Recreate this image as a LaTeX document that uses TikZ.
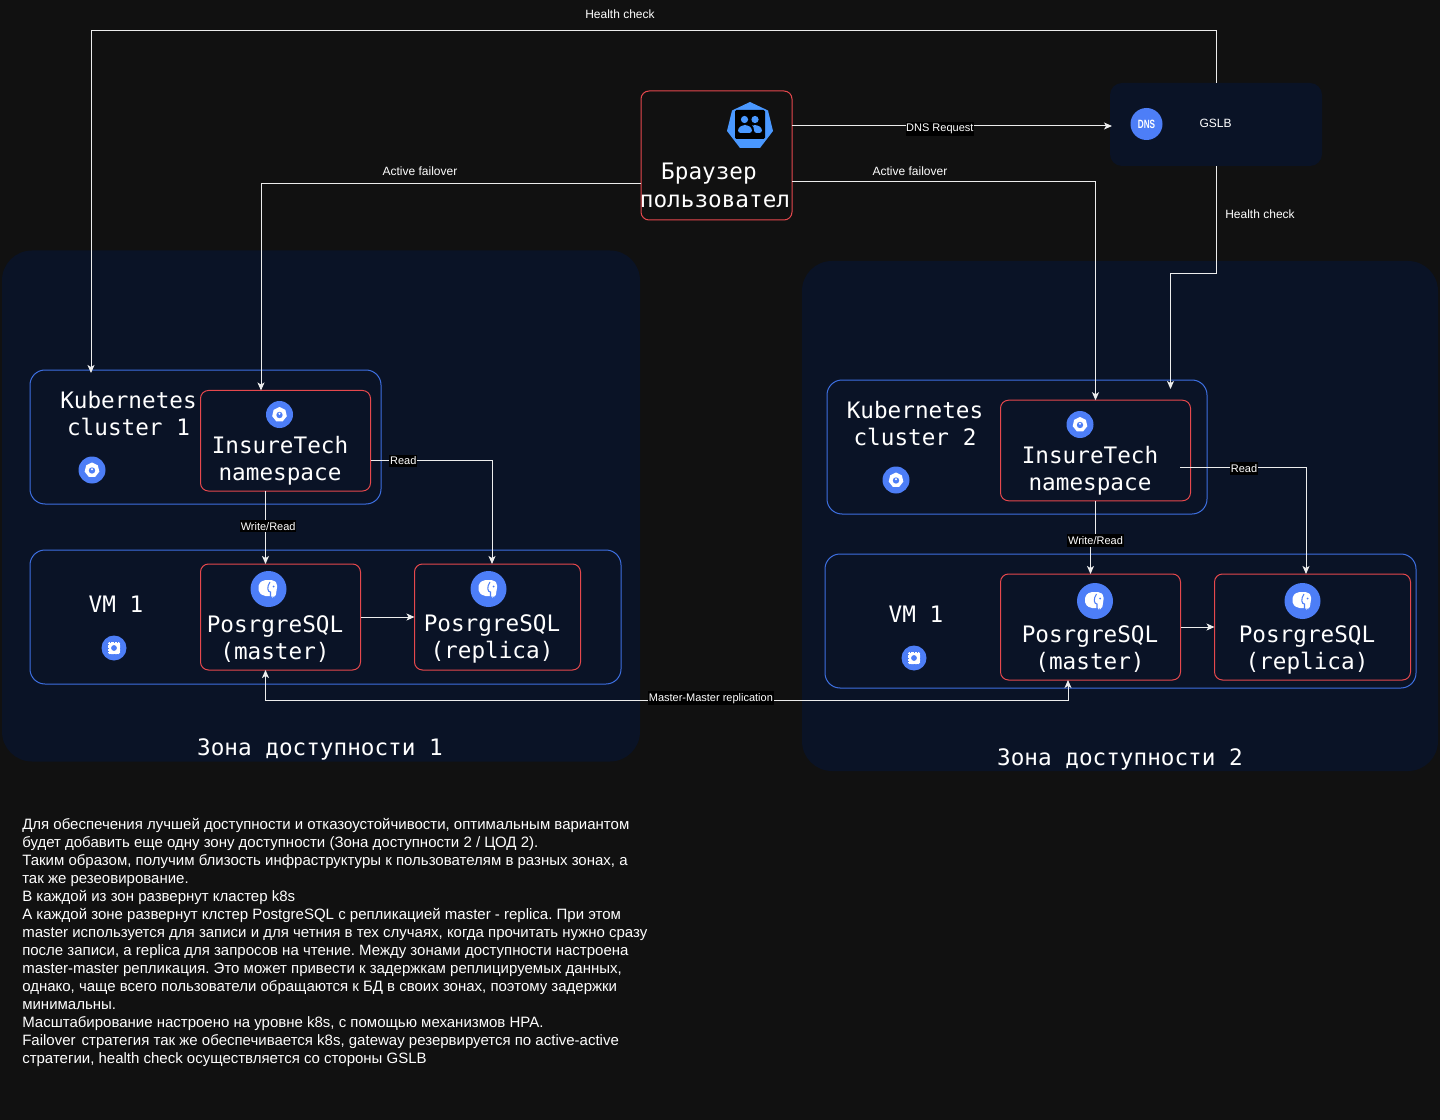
\documentclass[tikz,border=0pt]{standalone}
\usepackage{fontspec}
\usetikzlibrary{arrows.meta}
\setmainfont{Liberation Sans}
\setmonofont{DejaVu Sans Mono}
\definecolor{pagebg}{HTML}{111111}
\definecolor{zonebg}{HTML}{0A1326}
\definecolor{blueline}{HTML}{3D6FE0}
\definecolor{redline}{HTML}{E5484D}
\definecolor{iconblue}{HTML}{4D7EF7}
\definecolor{userblue}{HTML}{4A98FF}
\definecolor{wire}{HTML}{EDEDED}
\tikzset{
	zone/.style={fill=zonebg, rounded corners=22.5pt, minimum width=#1, outer sep=0pt},
	bluebox/.style={draw=blueline, line width=0.75pt, rounded corners=11.25pt, outer sep=0pt},
	redbox/.style={draw=redline, line width=0.75pt, rounded corners=6pt, outer sep=0pt},
	monotext/.style={text=white, font=\ttfamily\fontsize{17}{20.25}\selectfont, align=center, inner sep=0pt},
	note/.style={text=white, font=\fontsize{9}{11}\selectfont, inner sep=0pt},
	lbl/.style={text=white, font=\fontsize{8.25}{10}\selectfont, fill=black, inner xsep=0.5pt, inner ysep=1.5pt},
	wired/.style={draw=wire, line width=0.75pt, >={Stealth[length=6pt, width=5.25pt, inset=1.5pt]}},
	kubeicon/.pic={
		\fill[iconblue] (0,0) circle (13.5);
		\fill[white] (270:7.5) -- (321.4:7.5) -- (12.9:7.5) -- (64.3:7.5) -- (115.7:7.5) -- (167.1:7.5) -- (218.6:7.5) -- cycle;
		\fill[iconblue] (0,0.5) circle (3.2);
		\fill[white] (0,-0.8) circle (1.1);
	},
	chipicon/.pic={
		\fill[iconblue] (0,0) circle (12.5);
		\fill[white, rounded corners=1pt] (-6,-6) rectangle (6,6);
		\fill[iconblue] (0,0) circle (2.9);
		\foreach \t in {-3.5,0,3.5} {
			\draw[iconblue, line width=0.3pt] (\t,-6.5) -- (\t,-5.5);
			\draw[iconblue, line width=0.3pt] (\t,6.5) -- (\t,5.5);
			\draw[iconblue, line width=0.3pt] (-6.5,\t) -- (-5.5,\t);
			\draw[iconblue, line width=0.3pt] (6.5,\t) -- (5.5,\t);
		}
	},
	pgicon/.pic={
		\fill[iconblue] (0,0) circle (18);
		\fill[white, rounded corners=1.5pt] (-10,-5) -- (-5,-9) -- (5,-9) -- (9,-5) -- (8,2) -- (7,8) -- (4,8) -- (4,7) -- (-5,7) -- (-10,3) -- cycle;
		\draw[iconblue, line width=0.8pt] (1.5,-7) .. controls (-2,-2) and (-1,3) .. (2,3) -- (2,9);
		\fill[iconblue] (5,-2.5) circle (1);
	},
}
\begin{document}
\begin{tikzpicture}[x=0.75pt, y=-0.75pt]
	\useasboundingbox (0,0) rectangle (1440,1120);
	\fill[pagebg] (0,0) rectangle (1440,1120);

	\node[zone=478.5pt, minimum height=383.25pt] (zoneone) at (321,506) {};
	\node[zone=477pt, minimum height=382.5pt] (zonetwo) at (1120,516) {};
	\node[zone=159pt, minimum height=62.25pt, rounded corners=9pt] (gslb) at (1216,124.5) {};
	\node[redbox, minimum width=113.25pt, minimum height=96.75pt] (browser) at (716.5,155.5) {};

	\node[bluebox, minimum width=263.25pt, minimum height=100.5pt] (kubeone) at (205.5,437) {};
	\node[redbox, minimum width=127.5pt, minimum height=75.4pt] (nsone) at (285.5,440.75) {};
	\node[bluebox, minimum width=443.25pt, minimum height=100.5pt] (vmone) at (325.5,617) {};
	\node[redbox, minimum width=120pt, minimum height=79.5pt] (pgmone) at (280.5,617) {};
	\node[redbox, minimum width=124.5pt, minimum height=79.5pt] (pgrone) at (497.5,617) {};

	\node[bluebox, minimum width=285pt, minimum height=100.5pt] (kubetwo) at (1017,447) {};
	\node[redbox, minimum width=142.5pt, minimum height=75.4pt] (nstwo) at (1095.5,450.5) {};
	\node[bluebox, minimum width=443.25pt, minimum height=100.5pt] (vmtwo) at (1120.5,621) {};
	\node[redbox, minimum width=135pt, minimum height=79.5pt] (pgmtwo) at (1090.5,627) {};
	\node[redbox, minimum width=147pt, minimum height=79.5pt] (pgrtwo) at (1312.5,627) {};

	\node[monotext] (txtbrowsera) at (709,174) {Браузер};
	\node[monotext] (txtbrowserb) at (715,201) {пользовател};
	\node[monotext] (txtkubeone) at (128.5,414) {Kubernetes\\cluster 1};
	\node[monotext] (txtnsone) at (280,460.5) {InsureTech\\namespace};
	\node[monotext] (txtvmone) at (116,604) {VM 1};
	\node[monotext] (txtpgmone) at (275,639) {PosrgreSQL\\(master)};
	\node[monotext] (txtpgrone) at (492,639) {PosrgreSQL\\(replica)};
	\node[monotext] (txtzoneone) at (320,749) {Зона доступности 1};
	\node[monotext] (txtkubetwo) at (915,423.5) {Kubernetes\\cluster 2};
	\node[monotext] (txtnstwo) at (1090,470.5) {InsureTech\\namespace};
	\node[monotext] (txtvmtwo) at (916,614) {VM 1};
	\node[monotext] (txtpgmtwo) at (1090,649) {PosrgreSQL\\(master)};
	\node[monotext] (txtpgrtwo) at (1307,649.5) {PosrgreSQL\\(replica)};
	\node[monotext] (txtzonetwo) at (1120,759) {Зона доступности 2};
	\node[note] (txtgslb) at (1215.5,123) {GSLB};

	\pic at (92,470) {kubeicon};
	\pic at (279.5,414.5) {kubeicon};
	\pic at (896,480) {kubeicon};
	\pic at (1080,424.5) {kubeicon};
	\pic at (114,648) {chipicon};
	\pic at (914,658) {chipicon};
	\pic at (268.5,589) {pgicon};
	\pic at (488.5,589) {pgicon};
	\pic at (1095,601) {pgicon};
	\pic at (1302.5,601) {pgicon};

	\fill[userblue] (750,102) -- (768,110.5) -- (773,131) -- (760,148) -- (740,148) -- (727,131) -- (732,110.5) -- cycle;
	\fill[black, rounded corners=1pt] (735,110) rectangle (765,139);
	\fill[userblue] (744.5,119.5) circle (3.6);
	\fill[userblue] (755,119.5) circle (3.6);
	\fill[userblue, rounded corners=2pt] (738,133) -- (738,128) -- (743,125) -- (747,125) -- (752,128) -- (752,133) -- cycle;
	\fill[userblue, rounded corners=2pt] (754,133) -- (754,127) -- (752,125) -- (757,125) -- (762,128) -- (762,133) -- cycle;

	\fill[iconblue] (1146.5,124) circle (16);
	\node[text=white, font=\bfseries\fontsize{9}{10}\selectfont, inner sep=0pt, xscale=0.68] (dnsicon) at (1146.5,124.5) {DNS};

	\coordinate (hctop) at (1216,30.5);
	\coordinate (hcleft) at (91,30.5);
	\coordinate (hcdrop) at (1170.5,273.5);
	\coordinate (afone) at (261,184);
	\coordinate (aftwo) at (1095.5,182);
	\coordinate (rdone) at (492,460);
	\coordinate (rdtwo) at (1306,467.5);
	\coordinate (rdstart) at (1180,467.5);
	\coordinate (wrone) at (265.5,526.5);
	\coordinate (wrtwo) at (1095.5,540.5);
	\coordinate (mmone) at (265.5,700.5);
	\coordinate (mmtwo) at (1068,700.5);
	\coordinate (dnsend) at (1112,126);

	\draw[wired, ->] (gslb.north) -- (hctop) -- (hcleft) -- ([yshift=-2.25pt]hcleft |- kubeone.north);
	\draw[wired, ->] (gslb.south) -- (gslb.south |- hcdrop) -- (hcdrop) -- ([yshift=-6.75pt]hcdrop |- kubetwo.north);
	\draw[wired, ->] (browser.east |- dnsend) -- node[lbl, pos=0.462, yshift=-2.25pt] (lbldns) {DNS Request} (dnsend);
	\draw[wired, ->] (browser.west |- afone) -- (afone) -- (afone |- nsone.north);
	\draw[wired, ->] (browser.east |- aftwo) -- (aftwo) -- (nstwo.north);
	\draw[wired, ->] (nsone.east |- rdone) -- node[lbl, pos=0.27, yshift=-0.75pt] (lblrdone) {Read} (rdone) -- (rdone |- pgrone.north);
	\draw[wired, ->] (rdstart) -- node[lbl, pos=0.508, yshift=-0.75pt] (lblrdtwo) {Read} (rdtwo) -- (rdtwo |- pgrtwo.north);
	\draw[wired, ->] (wrone |- nsone.south) -- node[lbl, pos=0.485, xshift=2pt] (lblwrone) {Write/Read} (wrone |- pgmone.north);
	\draw[wired, ->] (nstwo.south) -- (wrtwo) node[lbl] (lblwrtwo) {Write/Read} -| (pgmtwo.north);
	\draw[wired, ->] (pgmone) -- (pgrone);
	\draw[wired, ->] (pgmtwo) -- (pgrtwo);
	\draw[wired, <->] (mmone |- pgmone.south) -- (mmone) -- node[lbl, pos=0.555, yshift=1.75pt] (lblmm) {Master-Master replication} (mmtwo) -- (mmtwo |- pgmtwo.south);

	\node[note] (lblhctop) at (620,14) {Health check};
	\node[note] (lblhcdrop) at (1260,214) {Health check};
	\node[note] (lblafone) at (420,171) {Active failover};
	\node[note] (lblaftwo) at (910,171) {Active failover};

	\node[anchor=north west, text=white, align=left, inner sep=0pt, font=\frenchspacing\fontsize{11.25}{13.5}\selectfont] (story) at (22,818) {%
		Для обеспечения лучшей доступности и отказоустойчивости, оптимальным вариантом\\
		будет добавить еще одну зону доступности (Зона доступности 2 / ЦОД 2).\\
		Таким образом, получим близость инфраструктуры к пользователям в разных зонах, а\\
		так же резеовирование.\\
		В каждой из зон развернут кластер k8s\\
		А каждой зоне развернут клстер PostgreSQL с репликацией master - replica. При этом\\
		master используется для записи и для четния в тех случаях, когда прочитать нужно сразу\\
		после записи, а replica для запросов на чтение. Между зонами доступности настроена\\
		master-master репликация. Это может привести к задержкам реплицируемых данных,\\
		однако, чаще всего пользователи обращаются к БД в своих зонах, поэтому задержки\\
		минимальны.\\
		Масштабирование настроено на уровне k8s, с помощью механизмов HPA.\\
		Failover\hspace{4.6pt}стратегия так же обеспечивается k8s, gateway резервируется по active-active\\
		стратегии, health check осуществляется со стороны GSLB};
\end{tikzpicture}
\end{document}
